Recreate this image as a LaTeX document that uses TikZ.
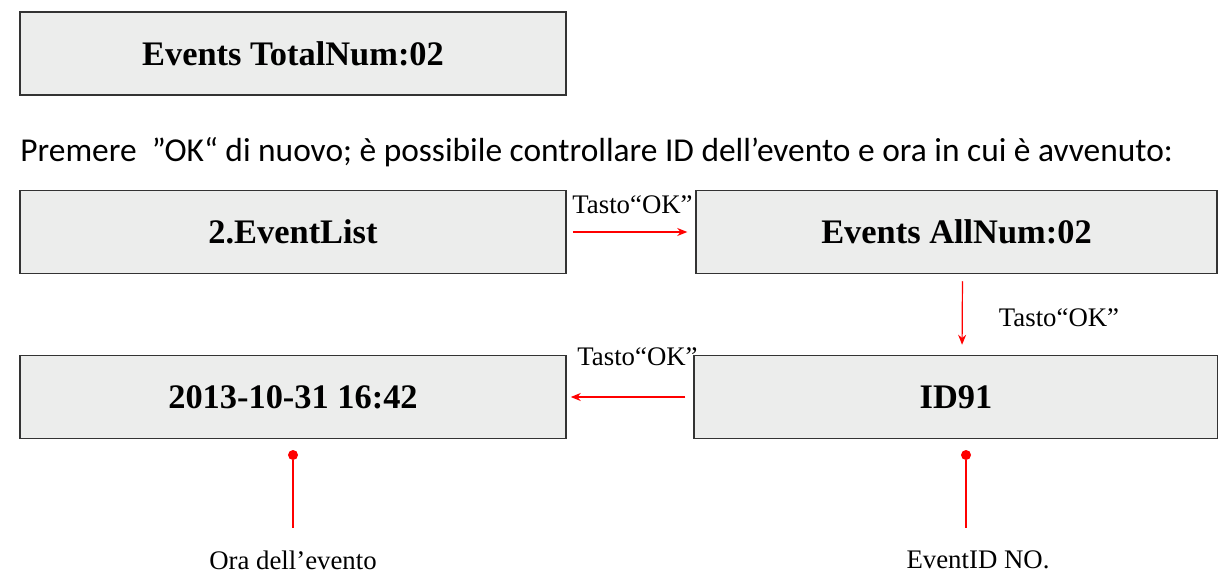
\documentclass[tikz,border=0pt]{standalone}
\usepackage{fontspec}
\setmainfont{Liberation Serif}
\newfontfamily\notefont{Carlito}
\usetikzlibrary{arrows.meta}
\definecolor{screengray}{RGB}{236,237,236}
\begin{document}
\begin{tikzpicture}[x=0.5pt,y=-0.5pt,
  screen/.style={draw=black!80,line width=0.75pt,fill=screengray,minimum width=273pt,minimum height=41.5pt,inner sep=0pt,font=\fontsize{17.2}{20}\selectfont\bfseries},
  okarrow/.style={-{Stealth[length=5pt,width=4pt]},red,line width=0.6pt},
  oklabel/.style={inner sep=0pt,font=\fontsize{13.4}{16}\selectfont},
  pin/.style={red,line width=0.6pt}]
  \useasboundingbox (0,0) rectangle (1218,572);
  % screens
  \node[screen] (total) at (293,53.5) {Events TotalNum:02};
  \node[anchor=west,inner sep=0pt,font=\notefont\fontsize{16.7}{20}\selectfont] (intro) at (20,152) {Premere\ \ ”OK“ di nuovo; è possibile controllare ID dell’evento e ora in cui è avvenuto:};
  \node[screen] (evl) at (293,232) {2.EventList};
  \node[screen,minimum width=260.5pt] (alln) at (956.5,232) {Events AllNum:02};
  \node[screen] (date) at (293,397) {2013-10-31 16:42};
  \node[screen,minimum width=262pt] (id) at (956,397) {ID91};
  % key presses
  \draw[okarrow,shorten <=3pt,shorten >=4pt] (evl) -- (alln);
  \node[oklabel] (ok1) at (632.5,205) {Tasto“OK”};
  \draw[okarrow,shorten <=3.5pt,shorten >=5pt] ([xshift=3pt]alln.south) -- ([xshift=3pt]id.north);
  \node[oklabel] (ok2) at (1059,318) {Tasto“OK”};
  \draw[okarrow,shorten <=4pt,shorten >=2pt] (id) -- (date);
  \node[oklabel] (ok3) at (637.5,357) {Tasto“OK”};
  % pointers
  \node[circle,fill=red,inner sep=0pt,minimum size=5pt] (tdot) at (293,455) {};
  \coordinate (tend) at (293,528);
  \draw[pin] (tdot) -- (tend);
  \node[oklabel] (tlbl) at (293,560) {Ora dell’evento};
  \node[circle,fill=red,inner sep=0pt,minimum size=5pt] (idot) at (966,455) {};
  \coordinate (iend) at (966,528);
  \draw[pin] (idot) -- (iend);
  \node[oklabel] (ilbl) at (978,560) {EventID NO.};
\end{tikzpicture}
\end{document}
